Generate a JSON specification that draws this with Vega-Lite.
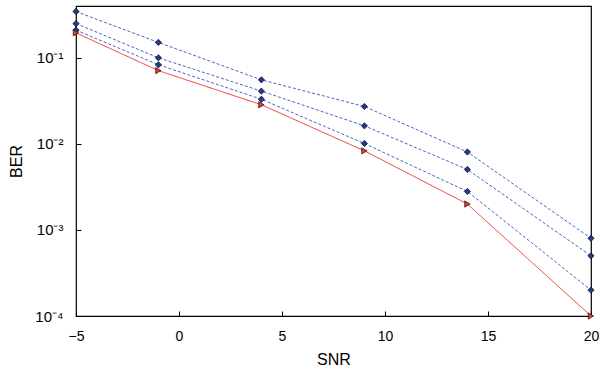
{
  "$schema": "https://vega.github.io/schema/vega-lite/v6.json",
  "width": 610,
  "height": 375,
  "autosize": {"type": "fit", "contains": "padding"},
  "padding": {"left": 8, "top": 6, "right": 11, "bottom": 8},
  "background": "white",
  "config": {
    "view": {"stroke": "black", "strokeWidth": 1.2},
    "font": "Liberation Sans",
    "axis": {"grid": false, "domain": false, "ticks": true, "tickColor": "black", "tickWidth": 1, "labelColor": "black", "titleColor": "black", "labelFont": "Liberation Sans", "titleFont": "Liberation Sans", "titleFontWeight": "normal", "labelFlush": false}
  },
  "data": {"values": [
    {"snr": -5, "ber": 0.345, "series": "modified GA+LMS(mu=.05)"},
    {"snr": -1, "ber": 0.151, "series": "modified GA+LMS(mu=.05)"},
    {"snr": 4, "ber": 0.0555, "series": "modified GA+LMS(mu=.05)"},
    {"snr": 9, "ber": 0.0272, "series": "modified GA+LMS(mu=.05)"},
    {"snr": 14, "ber": 0.00805, "series": "modified GA+LMS(mu=.05)"},
    {"snr": 20, "ber": 0.0008, "series": "modified GA+LMS(mu=.05)"},
    {"snr": -5, "ber": 0.25, "series": "modified GA+LMS(mu=.01)"},
    {"snr": -1, "ber": 0.1, "series": "modified GA+LMS(mu=.01)"},
    {"snr": 4, "ber": 0.041, "series": "modified GA+LMS(mu=.01)"},
    {"snr": 9, "ber": 0.0162, "series": "modified GA+LMS(mu=.01)"},
    {"snr": 14, "ber": 0.00504, "series": "modified GA+LMS(mu=.01)"},
    {"snr": 20, "ber": 0.0005, "series": "modified GA+LMS(mu=.01)"},
    {"snr": -5, "ber": 0.21, "series": "modified GA+LMS(mu variable)"},
    {"snr": -1, "ber": 0.083, "series": "modified GA+LMS(mu variable)"},
    {"snr": 4, "ber": 0.033, "series": "modified GA+LMS(mu variable)"},
    {"snr": 9, "ber": 0.0101, "series": "modified GA+LMS(mu variable)"},
    {"snr": 14, "ber": 0.0028, "series": "modified GA+LMS(mu variable)"},
    {"snr": 20, "ber": 0.0002, "series": "modified GA+LMS(mu variable)"},
    {"snr": -5, "ber": 0.195, "series": "ML"},
    {"snr": -1, "ber": 0.071, "series": "ML"},
    {"snr": 4, "ber": 0.0285, "series": "ML"},
    {"snr": 9, "ber": 0.0083, "series": "ML"},
    {"snr": 14, "ber": 0.002, "series": "ML"},
    {"snr": 20, "ber": 0.0001, "series": "ML"}
  ]},
  "layer": [
    {
      "mark": {"type": "line", "strokeWidth": 1},
      "encoding": {
        "x": {"field": "snr", "type": "quantitative", "scale": {"domain": [-5, 20], "nice": false, "zero": false},
          "axis": {"title": "SNR", "values": [-5, 0, 5, 10, 15, 20], "ticks": true, "tickSize": 5, "offset": -5, "labelPadding": 13, "labelFontSize": 14, "titleFontSize": 16, "titlePadding": 8}},
        "y": {"field": "ber", "type": "quantitative", "scale": {"type": "log", "domain": [0.0001, 0.4], "nice": false},
          "axis": {"title": "BER", "values": [0.0001, 0.001, 0.01, 0.1], "ticks": true, "tickSize": 5, "offset": -5, "labelPadding": 13, "labelFontSize": 15, "titleFontSize": 16, "titlePadding": 10,
            "labelExpr": "datum.value >= 0.09 ? '10⁻¹' : datum.value >= 0.009 ? '10⁻²' : datum.value >= 0.0009 ? '10⁻³' : '10⁻⁴'"}},
        "stroke": {"field": "series", "type": "nominal", "legend": null,
          "scale": {"domain": ["modified GA+LMS(mu=.05)", "modified GA+LMS(mu=.01)", "modified GA+LMS(mu variable)", "ML"], "range": ["#4a63c8", "#4a63c8", "#4a63c8", "#e8392e"]}},
        "strokeDash": {"field": "series", "type": "nominal", "legend": null,
          "scale": {"domain": ["modified GA+LMS(mu=.05)", "modified GA+LMS(mu=.01)", "modified GA+LMS(mu variable)", "ML"], "range": [[3, 2], [3, 2], [3, 2], [1, 0]]}}
      }
    },
    {
      "mark": {"type": "point", "filled": true, "opacity": 1, "size": 40, "stroke": "black", "strokeWidth": 0.6, "clip": false},
      "encoding": {
        "x": {"field": "snr", "type": "quantitative"},
        "y": {"field": "ber", "type": "quantitative"},
        "color": {"field": "series", "type": "nominal",
          "scale": {"domain": ["modified GA+LMS(mu=.05)", "modified GA+LMS(mu=.01)", "modified GA+LMS(mu variable)", "ML"], "range": ["#23398f", "#23398f", "#23398f", "#e8392e"]},
          "legend": {"title": null, "orient": "top-right", "offset": 2, "fillColor": "white", "strokeColor": "black", "padding": 5, "labelFontSize": 11, "labelColor": "black", "rowPadding": 3, "symbolStrokeColor": "black", "symbolStrokeWidth": 0.6}},
        "shape": {"field": "series", "type": "nominal",
          "scale": {"domain": ["modified GA+LMS(mu=.05)", "modified GA+LMS(mu=.01)", "modified GA+LMS(mu variable)", "ML"], "range": ["diamond", "diamond", "diamond", "triangle-right"]},
          "legend": {"title": null, "orient": "top-right", "offset": 2, "fillColor": "white", "strokeColor": "black", "padding": 5, "labelFontSize": 11, "labelColor": "black", "rowPadding": 3, "symbolStrokeColor": "black", "symbolStrokeWidth": 0.6}}
      }
    }
  ]
}
